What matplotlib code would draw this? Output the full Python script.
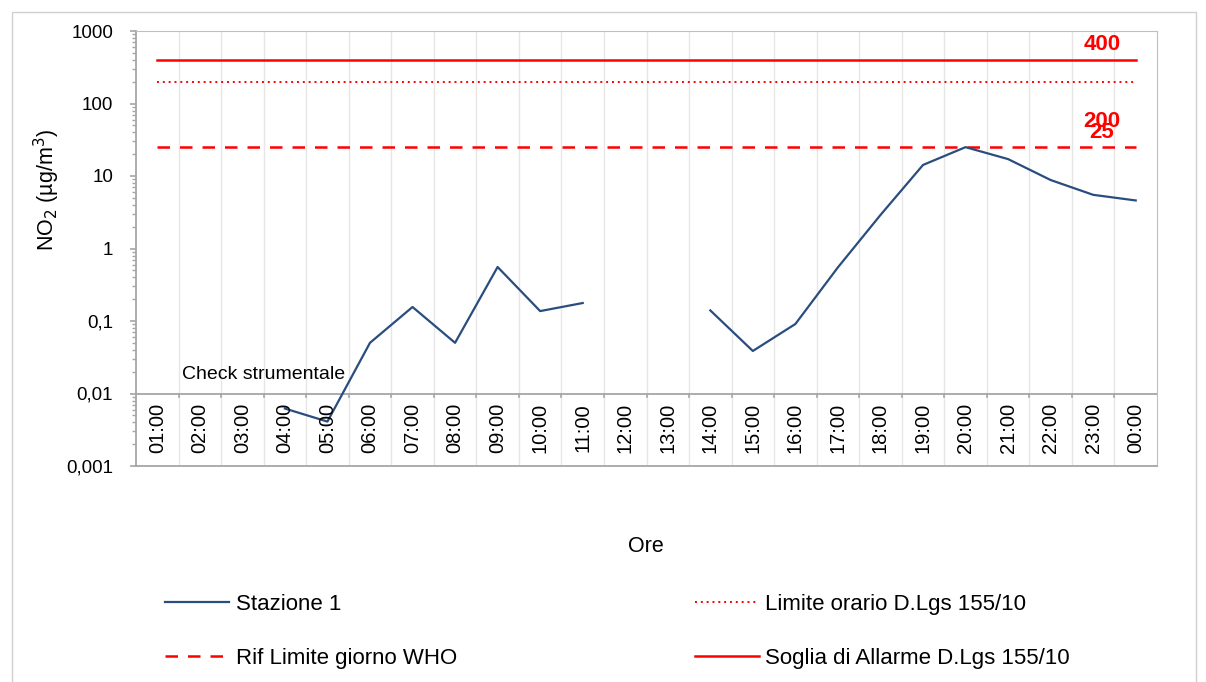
import numpy as np
import matplotlib.pyplot as plt
from matplotlib.patches import Rectangle

plt.rcParams.update({
    'font.family': ['Liberation Sans', 'DejaVu Sans'],
    'font.size': 12,
})

ore = ['01:00', '02:00', '03:00', '04:00', '05:00', '06:00', '07:00', '08:00',
       '09:00', '10:00', '11:00', '12:00', '13:00', '14:00', '15:00', '16:00',
       '17:00', '18:00', '19:00', '20:00', '21:00', '22:00', '23:00', '00:00']
# NaN = dato mancante (check strumentale / buchi)
stazione1 = [np.nan, np.nan, np.nan, 0.0062, 0.0041, 0.050, 0.156, 0.050,
             0.556, 0.137, 0.177, np.nan, np.nan, 0.14, 0.0386, 0.091,
             0.55, 2.9, 14.2, 25.0, 17.1, 8.8, 5.5, 4.6]
limite_orario = 200
rif_who = 25
soglia_allarme = 400

x = np.arange(len(ore))
fig = plt.figure(figsize=(12.06, 6.82), dpi=100)
fig.patches.append(Rectangle((12/1206, -0.1), 1184/1206, 1.1 - 12/682, transform=fig.transFigure,
                             fill=False, edgecolor='#d0d0d0', linewidth=1))
ax = fig.add_axes([136/1206, 1 - 466/682, 1021/1206, 435/682])

ax.set_yscale('log')
ax.set_ylim(0.001, 1000)
ax.set_xlim(-0.5, len(ore) - 0.5)

# griglia verticale tra le categorie
for b in np.arange(0.5, len(ore) - 0.5, 1):
    ax.axvline(b, color='#e6e6e6', linewidth=1, zorder=0)
ax.axhline(0.01, color='#a6a6a6', linewidth=1.3, zorder=1)
for b in np.arange(0.5, len(ore) - 0.5, 1):
    ax.plot([b, b], [0.01, 0.0089], color='#a6a6a6', linewidth=1.2, zorder=1)

ax.plot(x, [soglia_allarme] * len(x), color='#ff0000', linewidth=1.8, label='Soglia di Allarme D.Lgs 155/10')
ax.plot(x, [limite_orario] * len(x), color='#ff0000', linewidth=1.4, linestyle=(0, (1, 2)),
        label='Limite orario D.Lgs 155/10')
ax.plot(x, [rif_who] * len(x), color='#ff0000', linewidth=1.8, linestyle=(0, (5, 4)),
        label='Rif Limite giorno WHO')
ax.plot(x, stazione1, color='#2a4d7f', linewidth=1.6, label='Stazione 1')

ax.text(22.2, 660, '400', color='#ff0000', fontsize=16, fontweight='bold', ha='center', va='center')
ax.text(22.2, 56, '200', color='#ff0000', fontsize=16, fontweight='bold', ha='center', va='center')
ax.text(22.2, 40, '25', color='#ff0000', fontsize=16, fontweight='bold', ha='center', va='center')

ax.text(0.59, 0.0185, 'Check strumentale', fontsize=14, ha='left', va='center')

# etichette orarie dentro l'area, tra 0,01 e 0,001
for i, lab in enumerate(ore):
    ax.text(i, 10 ** -2.47, lab, rotation=90, ha='center', va='center', fontsize=14.5)

ax.set_xticks([])
ax.set_yticks([0.001, 0.01, 0.1, 1, 10, 100, 1000])
ax.set_yticklabels(['0,001', '0,01', '0,1', '1', '10', '100', '1000'])
ax.tick_params(axis='y', which='major', length=4.5, color='#a6a6a6', width=1.2,
               labelsize=13.5, pad=12)
ax.tick_params(axis='y', which='minor', length=3, color='#a6a6a6', width=1)
for s in ax.spines.values():
    s.set_color('#bfbfbf')
ax.spines['left'].set_color('#a6a6a6')
ax.spines['left'].set_linewidth(1.3)
ax.spines['bottom'].set_color('#a6a6a6')
ax.spines['bottom'].set_linewidth(1.3)

ax.set_ylabel('NO$_2$ (µg/m$^3$)', fontsize=15.5)
ax.yaxis.set_label_coords(-0.072, 0.634)
fig.text(646/1206, 1 - 547/682, 'Ore', fontsize=15.5, ha='center', va='center')

h, l = ax.get_legend_handles_labels()
order = [3, 2, 1, 0]
fig.legend([h[i] for i in order], [l[i] for i in order], ncol=2,
           loc='upper left', bbox_to_anchor=(145/1206, 1 - 574/682),
           frameon=False, fontsize=16, handlelength=2.88, handletextpad=0.3,
           labelspacing=1.47, columnspacing=10.7)

fig.savefig('out.png', dpi=100)
